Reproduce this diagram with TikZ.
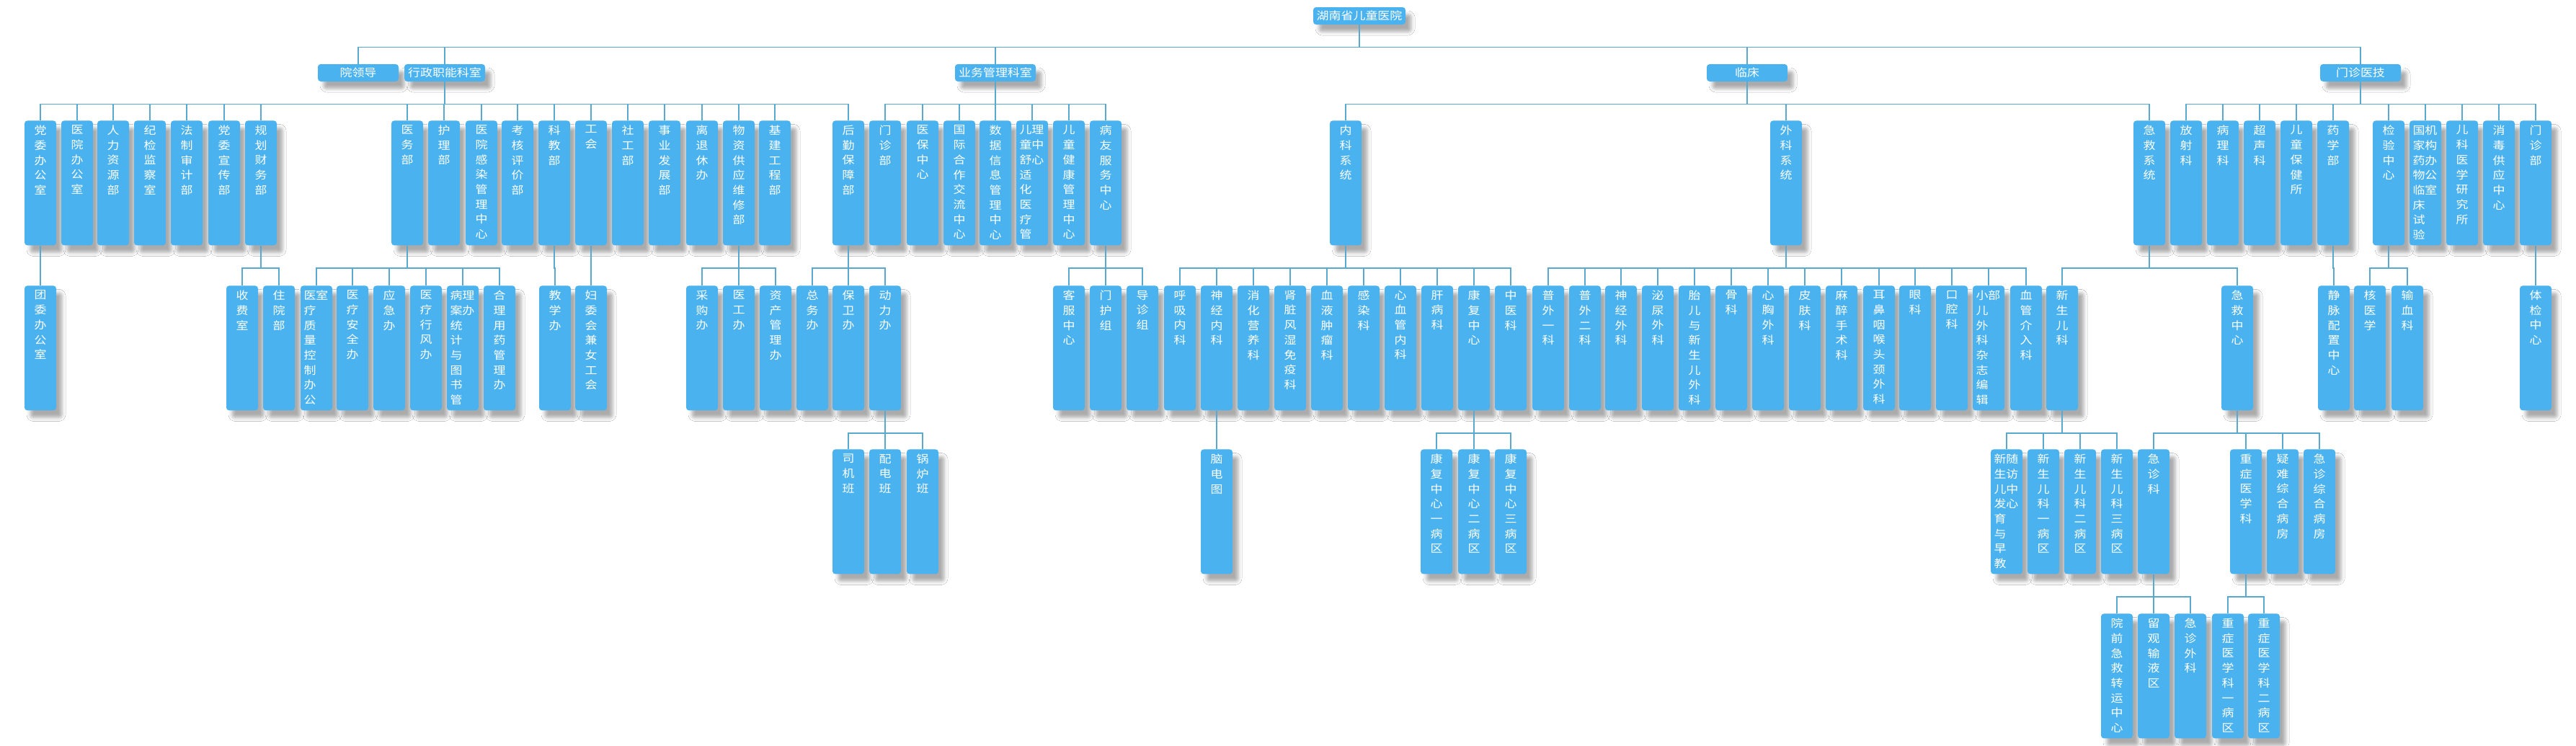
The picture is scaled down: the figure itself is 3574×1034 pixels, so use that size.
\documentclass[tikz,border=0pt]{standalone}
\usepackage{fontspec}
\usepackage{tikz}
\usetikzlibrary{shadows.blur}
\newfontfamily\cjk[FakeStretch=1.13]{Noto Sans CJK SC}
\definecolor{boxblue}{HTML}{4AB2EE}
\definecolor{linkblue}{HTML}{58A8CF}
% one character per line, for the tall boxes
\def\vsplitx#1{\ifx\relax#1\else#1\par\expandafter\vsplitx\fi}
\newcommand{\vt}[1]{\parbox[c][86.5pt][t]{22pt}{\centering\vspace*{3.3pt}\vsplitx#1\relax}}
\newcommand{\vtl}[1]{\parbox[c][86.5pt][t]{17.5pt}{\raggedright\vspace*{3.3pt}#1}}
\tikzset{
  unit/.style={rectangle, rounded corners=2pt, fill=boxblue, text=white, inner sep=0pt,
    font=\cjk\fontsize{7.5pt}{10.35pt}\selectfont,
    blur shadow={shadow xshift=4pt, shadow yshift=-5pt, shadow blur radius=2.5pt, shadow opacity=33}},
  hbox/.style={unit, minimum width=56pt, minimum height=12pt},
  vbox/.style={unit, anchor=north, minimum width=22pt},
  link/.style={draw=linkblue, line width=0.75pt},
  fork/.style={to path={(\tikztostart) -- ++(0,31) -| (\tikztotarget)}}
}
\begin{document}
\begin{tikzpicture}[x=0.5pt, y=-0.5pt]
  \fill[white] (0,0) rectangle (3574,1034);
  \useasboundingbox (0,0) rectangle (3574,1034);

  % top and first level
  \node[hbox, minimum width=64pt] (root) at (1886,22) {湖南省儿童医院};
  \node[hbox] (ld) at (497,101) {院领导};
  \node[hbox] (xz) at (617,101) {行政职能科室};
  \node[hbox] (yw) at (1381,101) {业务管理科室};
  \node[hbox] (lc) at (2424,101) {临床};
  \node[hbox] (mz) at (3275,101) {门诊医技};

  % second level
  \node[vbox] (dw) at (56,167) {\vt{党委办公室}};
  \node[vbox] (yb) at (107,167) {\vt{医院办公室}};
  \node[vbox] (rl) at (157,167) {\vt{人力资源部}};
  \node[vbox] (jj) at (208,167) {\vt{纪检监察室}};
  \node[vbox] (fz) at (259,167) {\vt{法制审计部}};
  \node[vbox] (xc) at (311,167) {\vt{党委宣传部}};
  \node[vbox] (gh) at (362,167) {\vt{规划财务部}};
  \node[vbox] (yiwu) at (565,167) {\vt{医务部}};
  \node[vbox] (hl) at (616,167) {\vt{护理部}};
  \node[vbox] (gr) at (668,167) {\vt{医院感染管理中心}};
  \node[vbox] (kh) at (718,167) {\vt{考核评价部}};
  \node[vbox] (kj) at (769,167) {\vt{科教部}};
  \node[vbox] (gonghui) at (820,167) {\vt{工会}};
  \node[vbox] (sg) at (871,167) {\vt{社工部}};
  \node[vbox] (sy) at (922,167) {\vt{事业发展部}};
  \node[vbox] (lt) at (974,167) {\vt{离退休办}};
  \node[vbox] (wz) at (1025,167) {\vt{物资供应维修部}};
  \node[vbox] (jjgc) at (1075,167) {\vt{基建工程部}};
  \node[vbox] (hq) at (1177,167) {\vt{后勤保障部}};
  \node[vbox] (mzb) at (1228,167) {\vt{门诊部}};
  \node[vbox] (yibao) at (1280,167) {\vt{医保中心}};
  \node[vbox] (gj) at (1331,167) {\vt{国际合作交流中心}};
  \node[vbox] (sj) at (1381,167) {\vt{数据信息管理中心}};
  \node[vbox] (ss) at (1432,167) {\vtl{儿理\\童中\\舒心\\适\\化\\医\\疗\\管}};
  \node[vbox] (jk) at (1483,167) {\vt{儿童健康管理中心}};
  \node[vbox] (by) at (1534,167) {\vt{病友服务中心}};
  \node[vbox] (nk) at (1867,167) {\vt{内科系统}};
  \node[vbox] (wk) at (2478,167) {\vt{外科系统}};
  \node[vbox] (jjxt) at (2982,167) {\vt{急救系统}};
  \node[vbox] (fs) at (3033,167) {\vt{放射科}};
  \node[vbox] (bl) at (3084,167) {\vt{病理科}};
  \node[vbox] (cs) at (3135,167) {\vt{超声科}};
  \node[vbox] (eb) at (3186,167) {\vt{儿童保健所}};
  \node[vbox] (yx) at (3237,167) {\vt{药学部}};
  \node[vbox] (jy) at (3314,167) {\vt{检验中心}};
  \node[vbox] (gjyw) at (3365,167) {\vtl{国机\\家构\\药办\\物公\\临室\\床\\试\\验}};
  \node[vbox] (ek) at (3416,167) {\vt{儿科医学研究所}};
  \node[vbox] (xd) at (3467,167) {\vt{消毒供应中心}};
  \node[vbox] (mzb2) at (3518,167) {\vt{门诊部}};

  % third level
  \node[vbox] (tw) at (56,396) {\vt{团委办公室}};
  \node[vbox] (sf) at (336,396) {\vt{收费室}};
  \node[vbox] (zy) at (387,396) {\vt{住院部}};
  \node[vbox] (zk) at (439,396) {\vtl{医室\\疗\\质\\量\\控\\制\\办\\公}};
  \node[vbox] (aq) at (489,396) {\vt{医疗安全办}};
  \node[vbox] (yj) at (540,396) {\vt{应急办}};
  \node[vbox] (hf) at (591,396) {\vt{医疗行风办}};
  \node[vbox] (ba) at (642,396) {\vtl{病理\\案办\\统\\计\\与\\图\\书\\管}};
  \node[vbox] (hy) at (693,396) {\vt{合理用药管理办}};
  \node[vbox] (jx) at (770,396) {\vt{教学办}};
  \node[vbox] (fw) at (820,396) {\vt{妇委会兼女工会}};
  \node[vbox] (cg) at (974,396) {\vt{采购办}};
  \node[vbox] (yg) at (1025,396) {\vt{医工办}};
  \node[vbox] (zc) at (1076,396) {\vt{资产管理办}};
  \node[vbox] (zw) at (1127,396) {\vt{总务办}};
  \node[vbox] (bw) at (1177,396) {\vt{保卫办}};
  \node[vbox] (dl) at (1228,396) {\vt{动力办}};
  \node[vbox] (kf) at (1483,396) {\vt{客服中心}};
  \node[vbox] (mh) at (1534,396) {\vt{门护组}};
  \node[vbox] (dz) at (1585,396) {\vt{导诊组}};
  \node[vbox] (hx) at (1637,396) {\vt{呼吸内科}};
  \node[vbox] (sjnk) at (1688,396) {\vt{神经内科}};
  \node[vbox] (xh) at (1739,396) {\vt{消化营养科}};
  \node[vbox] (sz) at (1790,396) {\vt{肾脏风湿免疫科}};
  \node[vbox] (xy) at (1841,396) {\vt{血液肿瘤科}};
  \node[vbox] (grk) at (1892,396) {\vt{感染科}};
  \node[vbox] (xx) at (1943,396) {\vt{心血管内科}};
  \node[vbox] (gb) at (1994,396) {\vt{肝病科}};
  \node[vbox] (kfzx) at (2045,396) {\vt{康复中心}};
  \node[vbox] (zyk) at (2096,396) {\vt{中医科}};
  \node[vbox] (pw1) at (2148,396) {\vt{普外一科}};
  \node[vbox] (pw2) at (2199,396) {\vt{普外二科}};
  \node[vbox] (sjwk) at (2249,396) {\vt{神经外科}};
  \node[vbox] (mn) at (2300,396) {\vt{泌尿外科}};
  \node[vbox] (te) at (2351,396) {\vt{胎儿与新生儿外科}};
  \node[vbox] (gk) at (2402,396) {\vt{骨科}};
  \node[vbox] (xxwk) at (2453,396) {\vt{心胸外科}};
  \node[vbox] (pf) at (2504,396) {\vt{皮肤科}};
  \node[vbox] (ms) at (2555,396) {\vt{麻醉手术科}};
  \node[vbox] (eby) at (2607,396) {\vt{耳鼻咽喉头颈外科}};
  \node[vbox] (yk) at (2657,396) {\vt{眼科}};
  \node[vbox] (kq) at (2708,396) {\vt{口腔科}};
  \node[vbox] (zz) at (2759,396) {\vtl{小部\\儿\\外\\科\\杂\\志\\编\\辑}};
  \node[vbox] (xg) at (2811,396) {\vt{血管介入科}};
  \node[vbox] (xse) at (2861,396) {\vt{新生儿科}};
  \node[vbox] (jjzx) at (3104,396) {\vt{急救中心}};
  \node[vbox] (jm) at (3238,396) {\vt{静脉配置中心}};
  \node[vbox] (hyx) at (3288,396) {\vt{核医学}};
  \node[vbox] (sx) at (3340,396) {\vt{输血科}};
  \node[vbox] (tj) at (3518,396) {\vt{体检中心}};

  % fourth level
  \node[vbox] (sjb) at (1177,623) {\vt{司机班}};
  \node[vbox] (pd) at (1228,623) {\vt{配电班}};
  \node[vbox] (gl) at (1280,623) {\vt{锅炉班}};
  \node[vbox] (nd) at (1688,623) {\vt{脑电图}};
  \node[vbox] (kf1) at (1993,623) {\vt{康复中心一病区}};
  \node[vbox] (kf2) at (2045,623) {\vt{康复中心二病区}};
  \node[vbox] (kf3) at (2096,623) {\vt{康复中心三病区}};
  \node[vbox] (sfzx) at (2784,623) {\vtl{新随\\生访\\儿中\\发心\\育\\与\\早\\教}};
  \node[vbox] (xe1) at (2835,623) {\vt{新生儿科一病区}};
  \node[vbox] (xe2) at (2886,623) {\vt{新生儿科二病区}};
  \node[vbox] (xe3) at (2937,623) {\vt{新生儿科三病区}};
  \node[vbox] (jz) at (2988,623) {\vt{急诊科}};
  \node[vbox] (zzyx) at (3116,623) {\vt{重症医学科}};
  \node[vbox] (yn) at (3167,623) {\vt{疑难综合病房}};
  \node[vbox] (jzzh) at (3218,623) {\vt{急诊综合病房}};

  % fifth level
  \node[vbox] (yq) at (2937,851) {\vt{院前急救转运中心}};
  \node[vbox] (lg) at (2988,851) {\vt{留观输液区}};
  \node[vbox] (jzwk) at (3039,851) {\vt{急诊外科}};
  \node[vbox] (zb1) at (3091,851) {\vt{重症医学科一病区}};
  \node[vbox] (zb2) at (3141,851) {\vt{重症医学科二病区}};

  % connectors
  \path[link] (root.south) edge[fork] (ld.north) edge[fork] (xz.north)
    edge[fork] (yw.north) edge[fork] (lc.north) edge[fork] (mz.north);
  \path[link] (xz.south) edge[fork] (dw.north) edge[fork] (yb.north)
    edge[fork] (rl.north) edge[fork] (jj.north) edge[fork] (fz.north)
    edge[fork] (xc.north) edge[fork] (gh.north) edge[fork] (yiwu.north)
    edge[fork] (hl.north) edge[fork] (gr.north) edge[fork] (kh.north)
    edge[fork] (kj.north) edge[fork] (gonghui.north) edge[fork] (sg.north)
    edge[fork] (sy.north) edge[fork] (lt.north) edge[fork] (wz.north)
    edge[fork] (jjgc.north) edge[fork] (hq.north);
  \path[link] (yw.south) edge[fork] (mzb.north) edge[fork] (yibao.north)
    edge[fork] (gj.north) edge[fork] (sj.north) edge[fork] (ss.north)
    edge[fork] (jk.north) edge[fork] (by.north);
  \path[link] (lc.south) edge[fork] (nk.north) edge[fork] (wk.north)
    edge[fork] (jjxt.north);
  \path[link] (mz.south) edge[fork] (fs.north) edge[fork] (bl.north)
    edge[fork] (cs.north) edge[fork] (eb.north) edge[fork] (yx.north)
    edge[fork] (jy.north) edge[fork] (gjyw.north) edge[fork] (ek.north)
    edge[fork] (xd.north) edge[fork] (mzb2.north);

  \path[link] (dw.south) edge[fork] (tw.north);
  \path[link] (gh.south) edge[fork] (sf.north) edge[fork] (zy.north);
  \path[link] (yiwu.south) edge[fork] (zk.north) edge[fork] (aq.north)
    edge[fork] (yj.north) edge[fork] (hf.north) edge[fork] (ba.north)
    edge[fork] (hy.north);
  \path[link] (kj.south) edge[fork] (jx.north);
  \path[link] (gonghui.south) edge[fork] (fw.north);
  \path[link] (wz.south) edge[fork] (cg.north) edge[fork] (yg.north)
    edge[fork] (zc.north);
  \path[link] (hq.south) edge[fork] (zw.north) edge[fork] (bw.north)
    edge[fork] (dl.north);
  \path[link] (by.south) edge[fork] (kf.north) edge[fork] (mh.north)
    edge[fork] (dz.north);
  \path[link] (nk.south) edge[fork] (hx.north) edge[fork] (sjnk.north)
    edge[fork] (xh.north) edge[fork] (sz.north) edge[fork] (xy.north)
    edge[fork] (grk.north) edge[fork] (xx.north) edge[fork] (gb.north)
    edge[fork] (kfzx.north) edge[fork] (zyk.north);
  \path[link] (wk.south) edge[fork] (pw1.north) edge[fork] (pw2.north)
    edge[fork] (sjwk.north) edge[fork] (mn.north) edge[fork] (te.north)
    edge[fork] (gk.north) edge[fork] (xxwk.north) edge[fork] (pf.north)
    edge[fork] (ms.north) edge[fork] (eby.north) edge[fork] (yk.north)
    edge[fork] (kq.north) edge[fork] (zz.north) edge[fork] (xg.north);
  \path[link] (jjxt.south) edge[fork] (xse.north) edge[fork] (jjzx.north);
  \path[link] (yx.south) edge[fork] (jm.north);
  \path[link] (jy.south) edge[fork] (hyx.north) edge[fork] (sx.north);
  \path[link] (mzb2.south) edge[fork] (tj.north);

  \path[link] (dl.south) edge[fork] (sjb.north) edge[fork] (pd.north)
    edge[fork] (gl.north);
  \path[link] (sjnk.south) edge[fork] (nd.north);
  \path[link] (kfzx.south) edge[fork] (kf1.north) edge[fork] (kf2.north)
    edge[fork] (kf3.north);
  \path[link] (xse.south) edge[fork] (sfzx.north) edge[fork] (xe1.north)
    edge[fork] (xe2.north) edge[fork] (xe3.north);
  \path[link] (jjzx.south) edge[fork] (jz.north) edge[fork] (zzyx.north)
    edge[fork] (yn.north) edge[fork] (jzzh.north);

  \path[link] (jz.south) edge[fork] (yq.north) edge[fork] (lg.north)
    edge[fork] (jzwk.north);
  \path[link] (zzyx.south) edge[fork] (zb1.north) edge[fork] (zb2.north);
\end{tikzpicture}
\end{document}
